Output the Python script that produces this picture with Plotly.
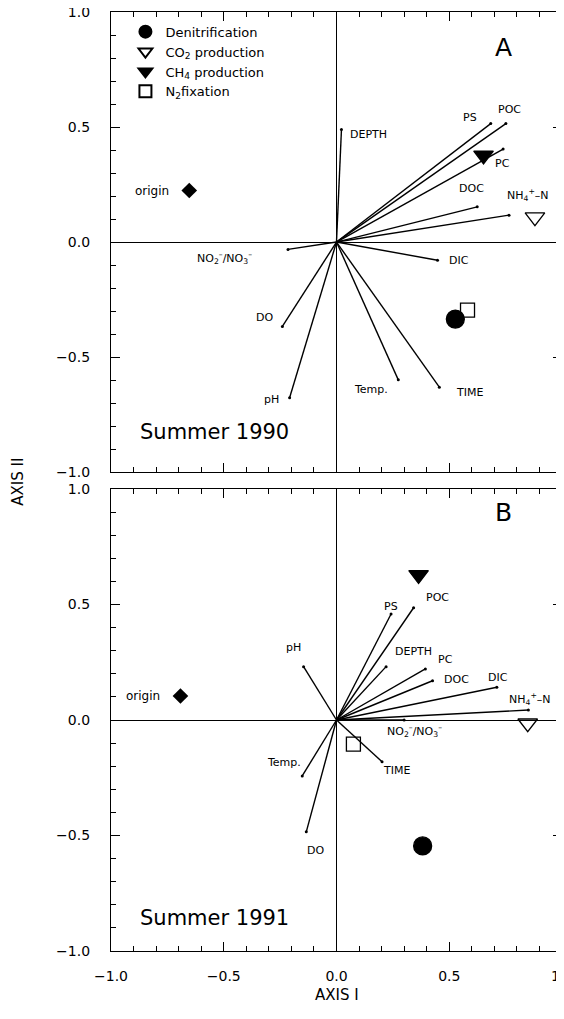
import plotly.graph_objects as go

# ---------------- data ----------------
# environmental variable vectors (biplot endpoints)
var_labels = ["DEPTH", "PS", "POC", "PC", "DOC",
              "NH<sub>4</sub><sup>+</sup>–N", "DIC",
              "NO<sub>2</sub><sup>–</sup>/NO<sub>3</sub><sup>–</sup>",
              "DO", "pH", "Temp.", "TIME"]

vec_x_a = [0.022, 0.684, 0.751, 0.739, 0.624, 0.765, 0.448, -0.215, -0.240, -0.208, 0.274, 0.456]
vec_y_a = [0.489, 0.515, 0.515, 0.404, 0.153, 0.117, -0.079, -0.032, -0.367, -0.677, -0.599, -0.631]

vec_x_b = [0.220, 0.242, 0.342, 0.394, 0.426, 0.851, 0.711, 0.300, -0.134, -0.146, -0.152, 0.202]
vec_y_b = [0.231, 0.459, 0.486, 0.221, 0.170, 0.043, 0.142, 0.000, -0.484, 0.231, -0.242, -0.181]

# process (sample) scores
process_names = ["Denitrification", "CO<sub>2</sub> production",
                 "CH<sub>4</sub> production", "N<sub>2</sub>fixation"]
proc_x_a = [0.527, 0.880, 0.652, 0.581]
proc_y_a = [-0.335, 0.108, 0.377, -0.296]
proc_x_b = [0.382, 0.848, 0.364, 0.075]
proc_y_b = [-0.545, -0.014, 0.628, -0.104]

origin_x = [-0.653, -0.692]
origin_y = [0.224, 0.104]

panel_titles = ["Summer 1990", "Summer 1991"]
panel_letters = ["A", "B"]

# ---------------- label placement (layout) ----------------
lab_x_a = [0.142, 0.593, 0.765, 0.735, 0.597, 0.745, 0.544, -0.496, -0.319, -0.288, 0.154, 0.588]
lab_y_a = [0.468, 0.541, 0.576, 0.342, 0.234, 0.203, -0.082, -0.069, -0.328, -0.684, -0.641, -0.652]
lab_x_b = [0.341, 0.242, 0.446, 0.485, 0.530, 0.755, 0.716, 0.345, -0.093, -0.190, -0.235, 0.264]
lab_y_b = [0.296, 0.490, 0.531, 0.260, 0.176, 0.090, 0.185, -0.046, -0.563, 0.316, -0.185, -0.219]

FONT = "DejaVu Sans"
symbols = ["circle", "triangle-down-open", "triangle-down", "square-open"]
sizes = [18, 17, 17, 14]

fig = go.Figure()


def add_panel(xr, yr, vx, vy, px, py, ox, oy, legend):
    # vectors
    lx, ly = [], []
    for x, y in zip(vx, vy):
        lx += [0, x, None]
        ly += [0, y, None]
    fig.add_trace(go.Scatter(x=lx, y=ly, mode="lines", xaxis=xr, yaxis=yr,
                             line=dict(color="black", width=1.4),
                             showlegend=False, hoverinfo="skip"))
    fig.add_trace(go.Scatter(x=vx, y=vy, mode="markers", xaxis=xr, yaxis=yr,
                             marker=dict(color="black", size=3),
                             showlegend=False, hoverinfo="skip"))
    # processes
    for i, name in enumerate(process_names):
        fig.add_trace(go.Scatter(
            x=[px[i]], y=[py[i]], mode="markers", name=name, xaxis=xr, yaxis=yr,
            marker=dict(symbol=symbols[i], size=sizes[i], color="black",
                        line=dict(color="black", width=1.3)),
            showlegend=legend, legendgroup=name))
    # origin
    fig.add_trace(go.Scatter(x=[ox], y=[oy], mode="markers", xaxis=xr, yaxis=yr,
                             marker=dict(symbol="diamond", size=12, color="black"),
                             showlegend=False))


add_panel("x", "y", vec_x_a, vec_y_a, proc_x_a, proc_y_a, origin_x[0], origin_y[0], True)
add_panel("x2", "y2", vec_x_b, vec_y_b, proc_x_b, proc_y_b, origin_x[1], origin_y[1], False)

ann = []
for xr, yr, lx, ly in (("x", "y", lab_x_a, lab_y_a), ("x2", "y2", lab_x_b, lab_y_b)):
    for i, t in enumerate(var_labels):
        ann.append(dict(x=lx[i], y=ly[i], xref=xr, yref=yr, text=t, showarrow=False,
                        xanchor="left" if i == 5 else "center",
                        font=dict(family=FONT, size=11, color="black")))

for k, (xr, yr) in enumerate((("x", "y"), ("x2", "y2"))):
    ann.append(dict(x=origin_x[k] - 0.165, y=origin_y[k], xref=xr, yref=yr, text="origin",
                    showarrow=False, font=dict(family=FONT, size=12, color="black")))
    ann.append(dict(x=-0.54, y=[-0.826, -0.857][k], xref=xr, yref=yr, text=panel_titles[k],
                    showarrow=False, font=dict(family=FONT, size=21, color="black")))
    ann.append(dict(x=0.74, y=[0.845, 0.9][k], xref=xr, yref=yr, text=panel_letters[k],
                    showarrow=False, font=dict(family=FONT, size=25, color="black")))

ann.append(dict(x=-0.208, y=0.5, xref="paper", yref="paper", text="AXIS II", showarrow=False,
                xanchor="center", yanchor="middle", textangle=-90,
                font=dict(family=FONT, size=15, color="black")))
ann.append(dict(x=0.5, y=-0.047, xref="paper", yref="paper", text="AXIS I", showarrow=False,
                xanchor="center", yanchor="middle",
                font=dict(family=FONT, size=15, color="black")))

axis_common = dict(range=[-1, 1], dtick=0.5, tick0=0, ticks="inside", ticklen=9,
                   tickwidth=1.2, tickcolor="black", showline=True, linecolor="black",
                   linewidth=1.3, mirror="ticks", showgrid=False, zeroline=True,
                   zerolinecolor="black", zerolinewidth=1.3, tickformat=".1f",
                   automargin=False, ticklabeloverflow="allow",
                   minor=dict(dtick=0.1, tick0=0, ticks="inside", ticklen=5,
                              tickcolor="black", tickwidth=1),
                   tickfont=dict(family=FONT, size=14, color="black"))

fig.update_layout(
    width=556, height=1003,
    margin=dict(l=103, r=2, t=4, b=60, autoexpand=False),
    plot_bgcolor="white", paper_bgcolor="white",
    xaxis=dict(axis_common, anchor="y", domain=[0, 1], showticklabels=False),
    yaxis=dict(axis_common, anchor="x", domain=[0.51, 1], ticklabelstandoff=17),
    xaxis2=dict(axis_common, anchor="y2", domain=[0, 1], ticklabelstandoff=12),
    yaxis2=dict(axis_common, anchor="x2", domain=[0, 0.492], ticklabelstandoff=17),
    legend=dict(x=0.032, y=0.995, xanchor="left", yanchor="top", bgcolor="rgba(0,0,0,0)",
                font=dict(family=FONT, size=13, color="black"), tracegroupgap=0,
                itemsizing="constant"),
    annotations=ann,
    showlegend=True,
)

fig.write_html("out.html")
